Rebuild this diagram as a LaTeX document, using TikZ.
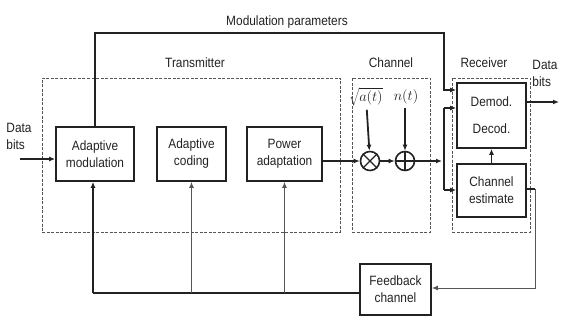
\documentclass[tikz,border=0pt]{standalone}
\usepackage{fontspec}
\setmainfont{Liberation Sans}[FakeStretch=0.88]
\usetikzlibrary{arrows.meta}
\definecolor{ink}{HTML}{222222}
\definecolor{soft}{HTML}{555555}
\begin{document}
\begin{tikzpicture}[x=1pt,y=-1pt,
  every node/.style={text=ink, font=\fontsize{13.5}{17}\selectfont},
  blk/.style={draw=ink, line width=1.7pt, align=center, inner sep=0pt},
  grp/.style={draw=soft, line width=0.9pt, dash pattern=on 3pt off 1.5pt, inner sep=0pt},
  sig/.style={draw=ink, line width=1.8pt, -{Latex[length=6pt,width=5pt]}},
  line/.style={draw=ink, line width=1.8pt},
  aux/.style={draw=soft, line width=1pt, -{Latex[length=6pt,width=5pt]}},
  op/.style={draw=ink, line width=1.6pt, circle, minimum size=19pt, inner sep=0pt}
]
\useasboundingbox (0,0) rectangle (571,329);

% dashed group frames
\node[grp, minimum width=298pt, minimum height=154pt] (tx) at (191,155) {};
\node[grp, minimum width=78pt, minimum height=154pt] (chb) at (391,155) {};
\node[grp, minimum width=78pt, minimum height=154pt] (rxb) at (491,155) {};
\node (txl) at (195,63) {Transmitter};
\node (chl) at (391,63) {Channel};
\node (rxl) at (484,63) {Receiver};

% transmitter blocks
\node[blk, minimum width=78pt, minimum height=54pt] (am) at (95,154) {Adaptive\\modulation};
\node[blk, minimum width=69pt, minimum height=54pt] (ac) at (191.5,154) {Adaptive\\coding};
\node[blk, minimum width=75pt, minimum height=54pt] (pa) at (284.5,154) {Power\\adaptation};

% channel
\node[op] (mul) at (370,161) {};
\draw[ink, line width=1.4pt] (mul.north west) -- (mul.south east) (mul.north east) -- (mul.south west);
\node[op] (add) at (405,161) {};
\draw[ink, line width=1.4pt] (add.north) -- (add.south) (add.west) -- (add.east);
\node (gain) at (366,97) {$\sqrt{a(t)}$};
\node (noise) at (406,97) {$n(t)$};

% receiver
\node[blk, minimum width=69pt, minimum height=65pt] (dm) at (491.5,115.5) {Demod.\\[10pt]Decod.};
\node[blk, minimum width=69pt, minimum height=53pt] (ce) at (491.5,190.5) {Channel\\estimate};

% feedback
\node[blk, minimum width=71pt, minimum height=51pt] (fb) at (395.5,289.5) {Feedback\\channel};

% labels
\node (mpl) at (287,22) {Modulation parameters};
\node[align=left, inner sep=0pt] (dinl) at (19,136) {Data\\bits};
\node[align=left, inner sep=0pt] (doutl) at (545,73) {Data\\bits};

% coordinates for routing
\coordinate (din) at (20,159);
\coordinate (mp) at (444,33);
\coordinate (split) at (444,161);
\coordinate (splitT) at (444,108);
\coordinate (splitB) at (444,190);
\coordinate (dout) at (559,102);
\coordinate (fbr) at (535,189);
\coordinate (fbd) at (535,288);
\coordinate (fbl) at (93,293);

% forward path
\draw[sig] (din) -- (din -| am.west);
\draw[sig] (am.north) |- (mp) |- (dm.west |- 0,90);
\draw[sig] (pa.east |- mul) -- (mul);
\draw[sig] (mul) -- (add);
\draw[sig] (add) -- ([xshift=-2pt]split);
\draw[line] (splitT) -- (splitB);
\draw[sig] (splitT) -- (splitT -| dm.west);
\draw[sig] (splitB) -- (splitB -| ce.west);
\draw[sig] (gain) -- (mul);
\draw[sig] (noise.south -| add) -- (add);
\draw[sig] (ce) -- (dm);
\draw[sig] (dm.east |- dout) -- (dout);

% feedback path
\draw[line] (ce.east |- fbr) -- (fbr);
\draw[aux] (fbr) -- (fbd) -- (fbd -| fb.east);
\draw[line] (fb.west |- fbl) -- (fbl);
\draw[sig] (fbl) -- (fbl |- am.south);
\draw[aux] (ac.south |- fbl) -- (ac.south);
\draw[aux] (pa.south |- fbl) -- (pa.south);
\end{tikzpicture}
\end{document}
